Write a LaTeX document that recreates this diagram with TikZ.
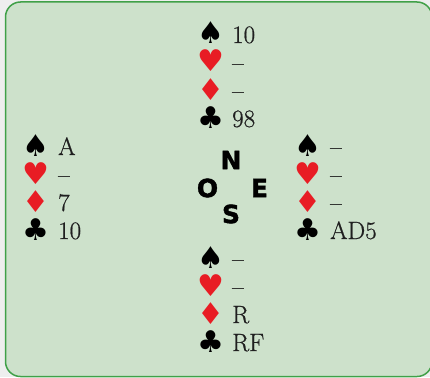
\documentclass[tikz,border=0pt]{standalone}
\usepackage{fontspec}
\newfontfamily\suitfont{DejaVu Sans}
\newfontfamily\nosefont{DejaVu Sans}[BoldFeatures={FakeBold=1.6}]
\newfontfamily\valfont{Latin Modern Roman}[FakeBold=0.7]
\definecolor{bgout}{RGB}{238,238,238}
\definecolor{panel}{RGB}{205,225,203}
\definecolor{framegreen}{RGB}{64,160,72}
\definecolor{suitred}{RGB}{232,28,36}
\begin{document}
\begin{tikzpicture}[x=1pt,y=-1pt,
  suit/.style={anchor=base,inner sep=0pt,font=\suitfont\fontsize{30}{30}\selectfont},
  blk/.style={suit,text=black},
  rd/.style={suit,text=suitred},
  val/.style={anchor=base west,inner sep=0pt,text=black!88,font=\valfont\fontsize{25}{25}\selectfont},
  dir/.style={inner sep=0pt,font=\nosefont\bfseries\fontsize{25}{25}\selectfont}]
\fill[bgout] (0,0) rectangle (430,377);
\useasboundingbox (0,0) rectangle (430,377);
\draw[framegreen, fill=panel, line width=1.5pt, rounded corners=15pt] (5.5,2) rectangle (432,376.5);
% North
\node[blk] (n1) at (210.5,44) {♠};
\node[rd]  (n2) at (210.5,72) {♥};
\node[rd]  (n3) at (210.5,100) {♦};
\node[blk] (n4) at (210.5,128) {♣};
\node[val] (nv1) at (232,43) {10};
\node[val] (nv2) at (232,71) {–};
\node[val] (nv3) at (232,99) {–};
\node[val] (nv4) at (232,127) {98};
% West
\node[blk] (w1) at (35.5,156) {♠};
\node[rd]  (w2) at (35.5,184) {♥};
\node[rd]  (w3) at (35.5,212) {♦};
\node[blk] (w4) at (35.5,240) {♣};
\node[val] (wv1) at (58,155) {A};
\node[val] (wv2) at (58,183) {–};
\node[val] (wv3) at (58,211) {7};
\node[val] (wv4) at (58,239) {10};
% East
\node[blk] (e1) at (308,156) {♠};
\node[rd]  (e2) at (308,184) {♥};
\node[rd]  (e3) at (308,212) {♦};
\node[blk] (e4) at (308,240) {♣};
\node[val] (ev1) at (330,155) {–};
\node[val] (ev2) at (330,183) {–};
\node[val] (ev3) at (330,211) {–};
\node[val] (ev4) at (330,239) {AD5};
% South
\node[blk] (s1) at (210.5,268) {♠};
\node[rd]  (s2) at (210.5,296) {♥};
\node[rd]  (s3) at (210.5,324) {♦};
\node[blk] (s4) at (210.5,352) {♣};
\node[val] (sv1) at (232,267) {–};
\node[val] (sv2) at (232,295) {–};
\node[val] (sv3) at (232,323) {R};
\node[val] (sv4) at (232,351) {RF};
% Compass
\node[dir] (cn) at (231,160) {N};
\node[dir] (co) at (207.5,188) {O};
\node[dir] (ce) at (259.5,188) {E};
\node[dir] (cs) at (231,214) {S};
\end{tikzpicture}
\end{document}
